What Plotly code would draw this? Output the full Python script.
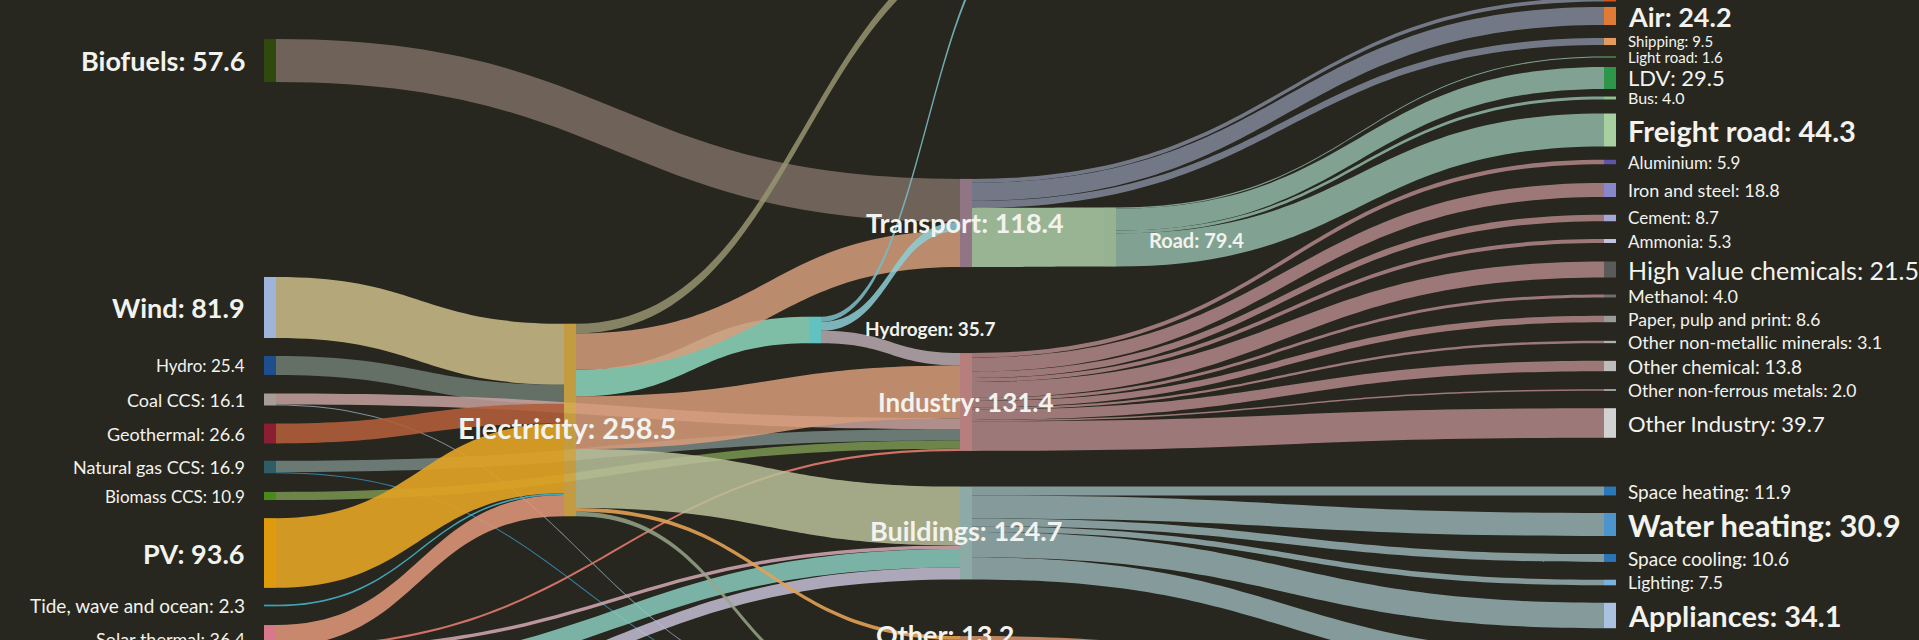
import plotly.graph_objects as go

W, H = 1919, 640

# ---------------- data ----------------
flow_from = [
    "Biofuels", "Wind", "Hydro", "Coal CCS", "Coal CCS", "Geothermal",
    "Natural gas CCS", "Natural gas CCS", "Biomass CCS", "PV",
    "Tide, wave and ocean", "Solar thermal", "Solar thermal", "Solar thermal",
    "Solid biomass", "Ambient heat", "Ambient heat",
    "Electricity", "Electricity", "Electricity", "Electricity", "Electricity",
    "Electricity", "Electricity",
    "Hydrogen", "Hydrogen", "Hydrogen",
    "Transport", "Transport", "Transport", "Transport",
    "Road", "Road", "Road", "Road",
    "Industry", "Industry", "Industry", "Industry", "Industry", "Industry",
    "Industry", "Industry", "Industry", "Industry", "Industry",
    "Buildings", "Buildings", "Buildings", "Buildings", "Buildings", "Buildings",
    "Other",
]
flow_to = [
    "Transport", "Electricity", "Electricity", "Industry", "Losses", "Electricity",
    "Industry", "Losses", "Industry", "Electricity",
    "Electricity", "Electricity", "Industry", "Buildings",
    "Buildings", "Buildings", "Other",
    "Exports", "Hydrogen", "Transport", "Industry", "Buildings",
    "Other", "Losses",
    "Exports", "Transport", "Industry",
    "Rail", "Air", "Shipping", "Road",
    "Light road", "LDV", "Bus", "Freight road",
    "Aluminium", "Iron and steel", "Cement", "Ammonia", "High value chemicals",
    "Methanol", "Paper, pulp and print", "Other non-metallic minerals",
    "Other chemical", "Other non-ferrous metals", "Other Industry",
    "Space heating", "Water heating", "Space cooling", "Lighting", "Appliances",
    "Cooking",
    "Other end uses",
]
flow_value = [
    57.6, 81.9, 25.4, 14.6, 1.5, 26.6,
    15.4, 1.5, 10.9, 93.6,
    2.3, 28.7, 3.0, 4.7,
    25.0, 16.0, 8.2,
    13.0, 35.7, 48.8, 70.8, 79.0,
    5.0, 6.2,
    7.0, 12.0, 16.7,
    5.3, 24.2, 9.5, 79.4,
    1.6, 29.5, 4.0, 44.3,
    5.9, 18.8, 8.7, 5.3, 21.5,
    4.0, 8.6, 3.1,
    13.8, 2.0, 39.7,
    11.9, 30.9, 10.6, 7.5, 34.1,
    29.7,
    13.2,
]

# ---------------- layout / style (kept apart from the data) ----------------
# node centre positions in pixels of the 1919 x 640 page
node_pos = {
    "Biofuels": (270, 60.5), "Wind": (270, 307.5), "Hydro": (270, 365.5),
    "Coal CCS": (270, 399.5), "Geothermal": (270, 433.5),
    "Natural gas CCS": (270, 467), "Biomass CCS": (270, 496),
    "PV": (270, 553), "Tide, wave and ocean": (270, 605.5),
    "Solar thermal": (270, 638.6), "Solid biomass": (270, 678), "Ambient heat": (270, 712),
    "Electricity": (570, 420), "Hydrogen": (815, 330),
    "Transport": (966, 223), "Industry": (966, 402), "Buildings": (966, 533),
    "Other": (966, 641), "Road": (1110, 237),
    "Exports": (1040, -70), "Losses": (900, 705),
    "Rail": (1610, -0.5), "Air": (1610, 16), "Shipping": (1610, 41.5),
    "Light road": (1610, 57), "LDV": (1610, 78), "Bus": (1610, 98),
    "Freight road": (1610, 130), "Aluminium": (1610, 162),
    "Iron and steel": (1610, 190), "Cement": (1610, 218), "Ammonia": (1610, 241),
    "High value chemicals": (1610, 269.5), "Methanol": (1610, 296),
    "Paper, pulp and print": (1610, 319), "Other non-metallic minerals": (1610, 342),
    "Other chemical": (1610, 366), "Other non-ferrous metals": (1610, 390),
    "Other Industry": (1610, 423), "Space heating": (1610, 491),
    "Water heating": (1610, 524.5), "Space cooling": (1610, 558),
    "Lighting": (1610, 582.5), "Appliances": (1610, 615.5),
    "Cooking": (1610, 664), "Other end uses": (1610, 700),
}

node_color = {
    "Biofuels": "#2f4a0c", "Wind": "#9fb4da", "Hydro": "#1f4e8c", "Coal CCS": "#a89c98",
    "Geothermal": "#8a1f34", "Natural gas CCS": "#2e5d66", "Biomass CCS": "#4a8a1c",
    "PV": "#df9a0e", "Tide, wave and ocean": "#2aa6cc", "Solar thermal": "#d9788c",
    "Solid biomass": "#7fcfb8", "Ambient heat": "#c8c0dc",
    "Electricity": "rgba(218,172,70,0.88)", "Hydrogen": "rgba(104,212,210,0.9)",
    "Transport": "rgba(166,132,152,0.85)", "Industry": "rgba(208,142,142,0.85)",
    "Buildings": "rgba(160,194,190,0.85)", "Other": "rgba(207,142,104,0.85)",
    "Road": "rgba(166,198,160,0.88)",
    "Exports": "#888870", "Losses": "#888870",
    "Rail": "#d9531e", "Air": "#e07a34", "Shipping": "#e69a5c", "Light road": "#5aa45a",
    "LDV": "#2e9648", "Bus": "#8cc48c", "Freight road": "#a8cfa0",
    "Aluminium": "#5e54a8", "Iron and steel": "#8a86cc", "Cement": "#a6a6d8",
    "Ammonia": "#c4c4dc", "High value chemicals": "#5a5a5a", "Methanol": "#6e6e6e",
    "Paper, pulp and print": "#9a9a9a", "Other non-metallic minerals": "#b0b0b0",
    "Other chemical": "#bdbdbd", "Other non-ferrous metals": "#c6c6c6",
    "Other Industry": "#d2d2d2", "Space heating": "#2a78b6", "Water heating": "#4c94cc",
    "Space cooling": "#2a76b4", "Lighting": "#7cb2da", "Appliances": "#a8c2e0",
    "Cooking": "#90b0c8", "Other end uses": "#d0a080",
}

# colour of each flow, keyed by (from, to); default falls back on a per-source colour
flow_color = {
    ("Biofuels", "Transport"): "rgba(124,110,100,0.85)",
    ("Wind", "Electricity"): "rgba(196,182,132,0.9)",
    ("Hydro", "Electricity"): "rgba(108,120,110,0.9)",
    ("Coal CCS", "Industry"): "rgba(200,162,160,0.85)",
    ("Coal CCS", "Losses"): "rgba(140,160,176,0.9)",
    ("Geothermal", "Electricity"): "rgba(176,94,58,0.9)",
    ("Natural gas CCS", "Industry"): "rgba(120,136,132,0.85)",
    ("Natural gas CCS", "Losses"): "rgba(58,138,176,0.9)",
    ("Biomass CCS", "Industry"): "rgba(122,150,80,0.85)",
    ("PV", "Electricity"): "rgba(224,162,36,0.92)",
    ("Tide, wave and ocean", "Electricity"): "rgba(70,178,200,0.9)",
    ("Solar thermal", "Electricity"): "rgba(222,150,122,0.88)",
    ("Solar thermal", "Industry"): "rgba(226,122,110,0.9)",
    ("Solar thermal", "Buildings"): "rgba(214,170,182,0.85)",
    ("Solid biomass", "Buildings"): "rgba(138,204,190,0.85)",
    ("Ambient heat", "Buildings"): "rgba(196,192,214,0.85)",
    ("Ambient heat", "Other"): "rgba(192,160,144,0.85)",
    ("Electricity", "Exports"): "rgba(150,148,112,0.85)",
    ("Electricity", "Hydrogen"): "rgba(140,212,186,0.88)",
    ("Electricity", "Transport"): "rgba(214,158,124,0.85)",
    ("Electricity", "Industry"): "rgba(216,156,122,0.85)",
    ("Electricity", "Buildings"): "rgba(186,192,154,0.85)",
    ("Electricity", "Other"): "rgba(226,162,84,0.9)",
    ("Electricity", "Losses"): "rgba(150,166,136,0.85)",
    ("Hydrogen", "Exports"): "rgba(122,184,192,0.9)",
    ("Hydrogen", "Transport"): "rgba(140,206,214,0.85)",
    ("Hydrogen", "Industry"): "rgba(186,170,176,0.85)",
    ("Transport", "Road"): "rgba(166,196,160,0.9)",
    ("Other", "Other end uses"): "rgba(204,144,106,0.9)",
}
source_default_color = {
    "Transport": "rgba(124,130,146,0.9)",
    "Road": "rgba(140,176,158,0.9)",
    "Industry": "rgba(170,130,130,0.9)",
    "Buildings": "rgba(144,168,168,0.9)",
}

# label styling: (size, bold)
label_style = {
    "Biofuels": (27, True), "Wind": (27, True), "PV": (27, True),
    "Hydro": (17, False), "Coal CCS": (18, False), "Geothermal": (18, False),
    "Natural gas CCS": (18, False), "Biomass CCS": (17, False),
    "Tide, wave and ocean": (19, False), "Solar thermal": (18, False),
    "Electricity": (29, True), "Hydrogen": (19, True), "Transport": (27, True),
    "Industry": (26, True), "Buildings": (27, True), "Other": (27, True), "Road": (20, True),
    "Air": (27, True), "Shipping": (15, False), "Light road": (15, False),
    "LDV": (22, False), "Bus": (16, False), "Freight road": (29, True),
    "Aluminium": (17, False), "Iron and steel": (18, False), "Cement": (17, False),
    "Ammonia": (17, False), "High value chemicals": (25, False), "Methanol": (18, False),
    "Paper, pulp and print": (17.5, False), "Other non-metallic minerals": (18, False),
    "Other chemical": (19, False), "Other non-ferrous metals": (17.5, False),
    "Other Industry": (22, False), "Space heating": (19, False),
    "Water heating": (31, True), "Space cooling": (19, False), "Lighting": (17.5, False),
    "Appliances": (29, True),
}
middle_label_pos = {
    "Electricity": (567, 427), "Hydrogen": (930, 328), "Transport": (965, 223),
    "Industry": (966, 402), "Buildings": (966, 530), "Other": (945, 634),
    "Road": (1196, 240),
}
left_names = ["Biofuels", "Wind", "Hydro", "Coal CCS", "Geothermal", "Natural gas CCS",
              "Biomass CCS", "PV", "Tide, wave and ocean", "Solar thermal"]

BG = "#27271f"
TXT = "#f2f2ee"
FONT = "Lato"

# ---------------- build ----------------
names = list(node_pos.keys())
idx = {n: i for i, n in enumerate(names)}

inflow = {n: 0.0 for n in names}
outflow = {n: 0.0 for n in names}
for a, b, v in zip(flow_from, flow_to, flow_value):
    outflow[a] += v
    inflow[b] += v
node_total = {n: max(inflow[n], outflow[n]) for n in names}

# node padding chosen so that 1 unit of energy ~ 0.745 px (sink column is the tallest)
KY = 0.745
sinks = [n for n in names if outflow[n] == 0]
sink_sum = sum(node_total[n] for n in sinks)
pad = (H - KY * sink_sum) / (len(sinks) - 1)

link_colors = []
for a, b in zip(flow_from, flow_to):
    link_colors.append(flow_color.get((a, b), source_default_color.get(a, "rgba(150,150,150,0.8)")))

fig = go.Figure(go.Sankey(
    arrangement="fixed",
    domain=dict(x=[0, 1], y=[0, 1]),
    node=dict(
        label=names,
        x=[node_pos[n][0] / W for n in names],
        y=[node_pos[n][1] / H for n in names],
        color=[node_color[n] for n in names],
        thickness=12,
        pad=pad,
        line=dict(width=0),
        hovertemplate="%{label}: %{value:.1f}<extra></extra>",
    ),
    link=dict(
        source=[idx[a] for a in flow_from],
        target=[idx[b] for b in flow_to],
        value=flow_value,
        color=link_colors,
        line=dict(width=0),
    ),
    textfont=dict(color="rgba(0,0,0,0)", size=1),
))

annotations = []
for n, (size, bold) in label_style.items():
    txt = f"{n}: {node_total[n]:.1f}"
    if n in middle_label_pos:
        px, py = middle_label_pos[n]
        xanchor = "center"
    elif n in left_names:
        px, py = 247, node_pos[n][1]
        xanchor = "right"
    else:
        px, py = 1626, node_pos[n][1]
        xanchor = "left"
    annotations.append(dict(
        x=px / W, y=1 - py / H, xref="paper", yref="paper",
        text=txt, showarrow=False, xanchor=xanchor, yanchor="middle",
        font=dict(family=FONT, size=size, color=TXT, weight="bold" if bold else "normal"),
    ))

fig.update_layout(
    width=W, height=H,
    margin=dict(l=0, r=0, t=0, b=0),
    paper_bgcolor=BG, plot_bgcolor=BG,
    annotations=annotations,
    font=dict(family=FONT, color=TXT),
)
fig.write_html(
    "out.html",
    config={"displayModeBar": False},
    post_script="document.body.style.margin='0';document.body.style.background='#27271f';"
                "document.body.style.overflow='hidden';",
)
